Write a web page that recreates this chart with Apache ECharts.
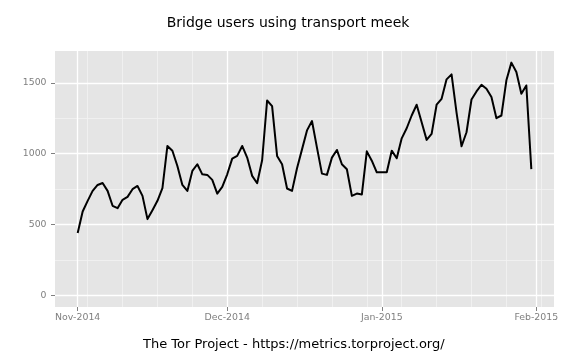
<!DOCTYPE html>
<html><head><meta charset="utf-8">
<script src="https://cdn.jsdelivr.net/npm/echarts@6/dist/echarts.min.js"></script>
<style>html,body{margin:0;padding:0;background:#fff}#c{width:576px;height:360px}</style>
</head><body><div id="c"></div>
<script>
const chartTitle = 'Bridge users using transport meek';
const caption = 'The Tor Project - https://metrics.torproject.org/';
const startDate = '2014-11-01';
const users = [
  440,592,667,737,779,793,737,632,615,674,695,749,772,702,538,601,667,756,1054,1020,913,779,737,878,925,854,850,815,718,765,
  854,965,984,1054,972,843,791,953,1375,1335,984,925,754,737,897,1030,1164,1230,1042,859,850,972,1026,925,890,702,718,711,1016,950,868,
  868,868,1021,967,1108,1179,1269,1345,1222,1097,1139,1345,1387,1524,1559,1290,1052,1151,1382,1439,1486,1458,1399,1250,1269,1517,1642,1576,1422,1481,891
];
const xTickDates = ['2014-11-01','2014-12-01','2015-01-01','2015-02-01'];
const xTickLabels = ['Nov-2014','Dec-2014','Jan-2015','Feb-2015'];
const xMinorDates = ['2014-11-03','2014-11-10','2014-11-17','2014-11-24','2014-12-08','2014-12-15','2014-12-22','2014-12-29','2015-01-05','2015-01-12','2015-01-19','2015-01-26','2015-02-02'];
const yTicks = [0,500,1000,1500];
const yMinorTicks = [250,750,1250];

const DAY = 86400000;
const t0 = Date.parse(startDate + 'T00:00:00Z');
const dayOf = s => Math.round((Date.parse(s + 'T00:00:00Z') - t0) / DAY);
const data = users.map((v, i) => [i, v]);
const dFirst = 0, dLast = users.length - 1;
const xPad = 0.05 * (dLast - dFirst);
const yLo = 0, yHi = Math.max(...users);
const yPad = 0.05 * (yHi - yLo);
const xTickVals = xTickDates.map(dayOf);
const xMinorVals = xMinorDates.map(dayOf);

const grey = '#7F7F7F';
const font = 'DejaVu Sans';
const chart = echarts.init(document.getElementById('c'), null, {renderer: 'canvas'});
chart.setOption({
  animation: false,
  backgroundColor: '#ffffff',
  title: [
    {text: chartTitle, left: 'center', top: 16, padding: 0,
     textStyle: {fontFamily: font, fontSize: 14, fontWeight: 'normal', color: '#000'}},
    {text: caption, left: 143, top: 338, padding: 0,
     textStyle: {fontFamily: font, fontSize: 13, fontWeight: 'normal', color: '#000'}}
  ],
  grid: {left: 55, right: 22, top: 51, bottom: 53, show: true, backgroundColor: '#E5E5E5', borderWidth: 0,
         containLabel: false, outerBoundsMode: 'none'},
  xAxis: [
    {type: 'value', position: 'bottom', min: dFirst - xPad, max: dLast + xPad, z: 0,
     axisLine: {show: false, onZero: false}, axisLabel: {show: false},
     axisTick: {show: false, customValues: xMinorVals},
     splitLine: {show: true, lineStyle: {color: '#F2F2F2', width: 0.8}}},
    {type: 'value', position: 'bottom', min: dFirst - xPad, max: dLast + xPad, z: 1,
     axisLine: {show: false, onZero: false},
     axisTick: {show: true, length: 4, customValues: xTickVals, lineStyle: {color: grey, width: 1}},
     axisLabel: {show: true, customValues: xTickVals, margin: 6, color: grey, fontFamily: font, fontSize: 9.4,
       formatter: v => { const i = xTickVals.indexOf(v); return i >= 0 ? xTickLabels[i] : ''; }},
     splitLine: {show: true, lineStyle: {color: '#FFFFFF', width: 1.3}}}
  ],
  yAxis: [
    {type: 'value', position: 'left', min: yLo - yPad, max: yHi + yPad, z: 0,
     axisLine: {show: false, onZero: false}, axisLabel: {show: false},
     axisTick: {show: false, customValues: yMinorTicks},
     splitLine: {show: true, lineStyle: {color: '#F2F2F2', width: 0.8}}},
    {type: 'value', position: 'left', min: yLo - yPad, max: yHi + yPad, z: 1,
     axisLine: {show: false, onZero: false},
     axisTick: {show: true, length: 4, customValues: yTicks, lineStyle: {color: grey, width: 1}},
     axisLabel: {show: true, customValues: yTicks, margin: 8.5, color: grey, fontFamily: font, fontSize: 9.3,
       formatter: v => String(v)},
     splitLine: {show: true, lineStyle: {color: '#FFFFFF', width: 1.3}}}
  ],
  series: [{
    type: 'line', xAxisIndex: 1, yAxisIndex: 1, data: data, showSymbol: false, symbol: 'none',
    z: 3, lineStyle: {color: '#000', width: 2, join: 'round'}
  }]
});
</script>
</body></html>
